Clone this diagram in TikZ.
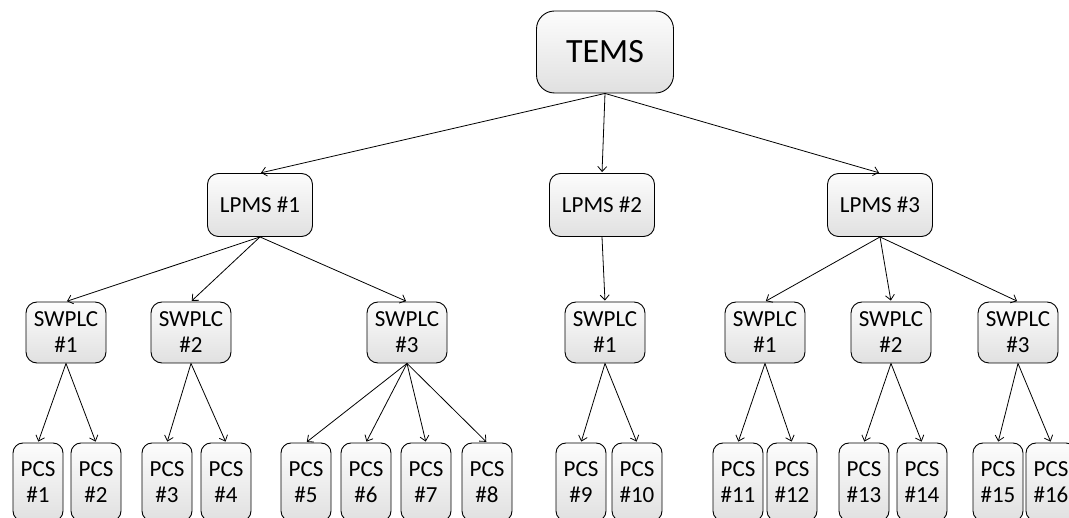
\documentclass[tikz,border=0pt]{standalone}
\usepackage{fontspec}
\setmainfont{Carlito}
\usetikzlibrary{arrows.meta,positioning,shapes}
\tikzset{>={Straight Barb[length=5pt,width=9pt]},shorten >=1pt}
\tikzset{
  box/.style={draw,line width=0.9pt,rounded corners=11pt,top color=gray!2,bottom color=gray!24,
    inner sep=0pt,align=center,font=\fontsize{23}{26}\selectfont},
  tems/.style={box,minimum width=137pt,minimum height=82pt,rounded corners=18pt,
    font=\fontsize{34}{40}\selectfont},
  lpms/.style={box,minimum width=105pt,minimum height=63pt},
  swplc/.style={box,minimum width=80pt,minimum height=61pt},
  pcs/.style={box,minimum width=50pt,minimum height=78pt,rounded corners=10pt}
}

\begin{document}
\begin{tikzpicture}[x=1pt,y=-1pt]
    \useasboundingbox (0,0) rectangle (1069,518);
    % top and LPMS level
    \node[tems] (tems) at (605,52) {TEMS};
    \node[lpms] (l1) at (260,205) {LPMS \#1};
    \node[lpms] (l2) at (602,205) {LPMS \#2};
    \node[lpms] (l3) at (880,205) {LPMS \#3};
    % SWPLC level
    \foreach \x/\n [count=\i] in {66/1,191/2,407/3,605/1,765/1,891/2,1018/3}
        \node[swplc] (s\i) at (\x,332.5) {SWPLC\\\#\n};
    % PCS level
    \foreach \x [count=\i] in {38,96,167,226,306,366,426,487,581,637,738,792,864,922,998,1051}
        \node[pcs] (p\i) at (\x,482) {PCS\\\#\i};
    \path[->,line width=0.8pt]
        (tems.south) edge (l1.north)
        (tems.south) edge (l2.north)
        (tems.south) edge (l3.north)
        (l1.south) edge (s1.north)
        (l1.south) edge (s2.north)
        (l1.south) edge (s3.north)
        (l2.south) edge (s4.north)
        (l3.south) edge (s5.north)
        (l3.south) edge (s6.north)
        (l3.south) edge (s7.north)
        (s1.south) edge (p1.north)
        (s1.south) edge (p2.north)
        (s2.south) edge (p3.north)
        (s2.south) edge (p4.north)
        (s3.south) edge (p5.north)
        (s3.south) edge (p6.north)
        (s3.south) edge (p7.north)
        (s3.south) edge (p8.north)
        (s4.south) edge (p9.north)
        (s4.south) edge (p10.north)
        (s5.south) edge (p11.north)
        (s5.south) edge (p12.north)
        (s6.south) edge (p13.north)
        (s6.south) edge (p14.north)
        (s7.south) edge (p15.north)
        (s7.south) edge (p16.north)
    ;
\end{tikzpicture}
\end{document}
